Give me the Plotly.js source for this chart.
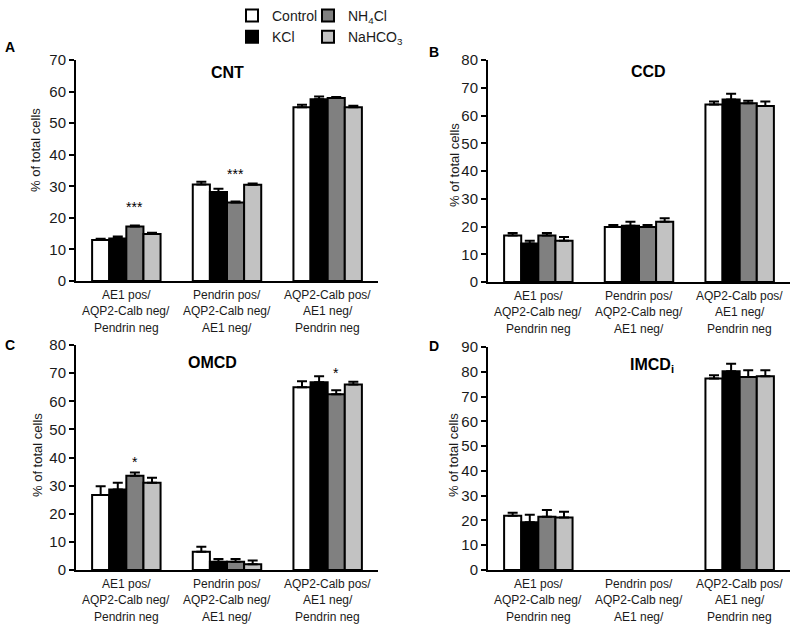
<!DOCTYPE html>
<html>
<head>
<meta charset="utf-8">
<script src="https://cdn.plot.ly/plotly-3.0.1.min.js"></script>
<style>html,body{margin:0;padding:0;background:#fff;}#chart{width:799px;height:624px;}</style>
</head>
<body>
<div id="chart"></div>
<script>
// ---------- DATA ----------
const categories = ['AE1 pos/AQP2-Calb neg/Pendrin neg', 'Pendrin pos/AQP2-Calb neg/AE1 neg/', 'AQP2-Calb pos/AE1 neg/Pendrin neg'];
const categoryLines = [
  ['AE1 pos/', 'AQP2-Calb neg/', 'Pendrin neg'],
  ['Pendrin pos/', 'AQP2-Calb neg/', 'AE1 neg/'],
  ['AQP2-Calb pos/', 'AE1 neg/', 'Pendrin neg']
];
const seriesNames = ['Control', 'KCl', 'NH<sub>4</sub>Cl', 'NaHCO<sub>3</sub>'];
const seriesColors = ['#ffffff', '#000000', '#808080', '#c2c2c2'];
const seriesLegend = ['legend', 'legend', 'legend2', 'legend2'];

// CNT (A): one row per series [Control, KCl, NH4Cl, NaHCO3]
const cntMeans = [[13.0, 30.6, 55.0], [13.5, 28.2, 57.6], [17.3, 24.9, 58.0], [14.9, 30.5, 55.0]];
const cntErrors = [[0.4, 0.8, 0.8], [0.6, 1.0, 0.8], [0.3, 0.3, 0.3], [0.4, 0.4, 0.5]];
// CCD (B)
const ccdMeans = [[16.8, 19.8, 64.0], [13.9, 20.3, 65.8], [16.8, 19.8, 64.4], [14.9, 21.7, 63.4]];
const ccdErrors = [[0.9, 0.7, 1.0], [1.0, 1.4, 2.0], [0.9, 0.7, 0.9], [1.3, 1.3, 1.6]];
// OMCD (C)
const omcdMeans = [[26.7, 6.5, 65.0], [28.6, 2.9, 66.8], [33.5, 2.9, 62.5], [31.0, 2.0, 66.0]];
const omcdErrors = [[3.1, 1.8, 2.1], [2.4, 1.0, 2.1], [1.2, 1.0, 1.4], [1.8, 1.4, 0.9]];
// IMCDi (D)
const imcdMeans = [[21.9, null, 77.3], [19.3, null, 80.2], [21.5, null, 77.9], [21.2, null, 78.2]];
const imcdErrors = [[1.2, 0, 1.3], [3.0, 0, 3.0], [2.7, 0, 2.7], [2.3, 0, 2.4]];

// significance marks (over NH4Cl bar)
const cntStarGroups = [0, 1];
const cntStarY = [23.4, 33.9];
const omcdStarGroups = [0, 2];
const omcdStarY = [38.3, 69.9];

// ---------- LAYOUT HELPERS ----------
const W = 799, H = 624;
const px = x => x / W;
const py = y => 1 - y / H;
const FONT = 'Liberation Sans, Arial, Helvetica, sans-serif';
const TXT = '#1a1a1a';
const BARGAP = 0.32;

const panels = [
  {n: '', means: cntMeans, errs: cntErrors, ymax: 70, xd: [76, 378], yd: [281, 60], title: 'CNT', tpos: [227, 72], letter: 'A', lpos: [10, 47], ytpos: [35, 150], stars: {g: cntStarGroups, y: cntStarY, t: '***'}},
  {n: '2', means: ccdMeans, errs: ccdErrors, ymax: 80, xd: [488, 790], yd: [282, 60], title: 'CCD', tpos: [648, 71], letter: 'B', lpos: [434, 52], ytpos: [455, 165], stars: null},
  {n: '3', means: omcdMeans, errs: omcdErrors, ymax: 80, xd: [76, 378], yd: [570, 345], title: 'OMCD', tpos: [212, 362], letter: 'C', lpos: [10, 345], ytpos: [37, 455], stars: {g: omcdStarGroups, y: omcdStarY, t: '*'}},
  {n: '4', means: imcdMeans, errs: imcdErrors, ymax: 90, xd: [488, 790], yd: [570, 347], title: 'IMCD<sub>i</sub>', tpos: [652, 365], letter: 'D', lpos: [434, 346], ytpos: [453, 455], stars: null}
];

const traces = [];
const annotations = [];
const layout = {
  width: W, height: H,
  margin: {l: 0, r: 0, t: 0, b: 0},
  paper_bgcolor: '#ffffff', plot_bgcolor: 'rgba(0,0,0,0)',
  barmode: 'group', bargap: BARGAP, bargroupgap: 0,
  font: {family: FONT, color: TXT},
  showlegend: true,
  legend: {x: px(232), y: 1, xanchor: 'left', yanchor: 'top', orientation: 'v', bgcolor: 'rgba(0,0,0,0)', font: {family: FONT, size: 14, color: TXT}, tracegroupgap: 0},
  legend2: {x: px(308), y: 1, xanchor: 'left', yanchor: 'top', orientation: 'v', bgcolor: 'rgba(0,0,0,0)', font: {family: FONT, size: 14, color: TXT}, tracegroupgap: 0},
  annotations: annotations
};

panels.forEach((p, pi) => {
  const xa = 'x' + p.n, ya = 'y' + p.n;
  layout['xaxis' + p.n] = {
    domain: [px(p.xd[0]), px(p.xd[1])], anchor: ya, type: 'category',
    categoryorder: 'array', categoryarray: categories, range: [-0.5, 2.5],
    showline: true, linewidth: 2, linecolor: '#000', ticks: '', showticklabels: false,
    showgrid: false, zeroline: false, fixedrange: true
  };
  layout['yaxis' + p.n] = {
    domain: [py(p.yd[0]), py(p.yd[1])], anchor: xa, range: [0, p.ymax], dtick: 10, tick0: 0,
    showline: true, linewidth: 2, linecolor: '#000', ticks: 'outside', ticklen: 5, tickwidth: 2, tickcolor: '#000',
    tickfont: {family: FONT, size: 15, color: TXT}, showgrid: false, zeroline: false, fixedrange: true
  };
  seriesNames.forEach((name, si) => {
    traces.push({
      type: 'bar', name: name, x: categories, y: p.means[si],
      xaxis: xa, yaxis: ya,
      marker: {color: seriesColors[si], line: {color: '#000', width: 2}},
      error_y: {type: 'data', symmetric: false, array: p.errs[si], arrayminus: p.errs[si].map(() => 0), color: '#000', thickness: 2, width: 5},
      showlegend: pi === 0, legend: seriesLegend[si], legendgroup: name,
      hoverinfo: 'skip'
    });
  });
  // category labels, one annotation per line
  categoryLines.forEach((lines, ci) => {
    lines.forEach((ln, li) => {
      annotations.push({xref: xa, yref: ya, x: ci, y: 0, text: ln, showarrow: false, xanchor: 'center', yanchor: 'middle', yshift: -(13.5 + 16.5 * li), font: {family: FONT, size: 12, color: TXT}});
    });
  });
  // panel title
  annotations.push({xref: 'paper', yref: 'paper', x: px(p.tpos[0]), y: py(p.tpos[1]), text: '<b>' + p.title + '</b>', showarrow: false, xanchor: 'center', yanchor: 'middle', font: {family: FONT, size: 16, color: '#000'}});
  // panel letter
  annotations.push({xref: 'paper', yref: 'paper', x: px(p.lpos[0]), y: py(p.lpos[1]), text: '<b>' + p.letter + '</b>', showarrow: false, xanchor: 'center', yanchor: 'middle', font: {family: FONT, size: 14, color: '#000'}});
  // y-axis title
  annotations.push({xref: 'paper', yref: 'paper', x: px(p.ytpos[0]), y: py(p.ytpos[1]), text: '% of total cells', textangle: -90, showarrow: false, xanchor: 'center', yanchor: 'middle', font: {family: FONT, size: 13, color: TXT}});
  // significance stars above NH4Cl bar
  if (p.stars) {
    const off = 0.5 * (1 - BARGAP) / seriesNames.length;
    p.stars.g.forEach((g, k) => {
      annotations.push({xref: xa, yref: ya, x: g + off, y: p.stars.y[k], text: p.stars.t, showarrow: false, xanchor: 'center', yanchor: 'middle', yshift: 0, font: {family: FONT, size: 14, color: '#000000'}});
    });
  }
});

Plotly.newPlot('chart', traces, layout, {displayModeBar: false, staticPlot: true});
</script>
</body>
</html>
